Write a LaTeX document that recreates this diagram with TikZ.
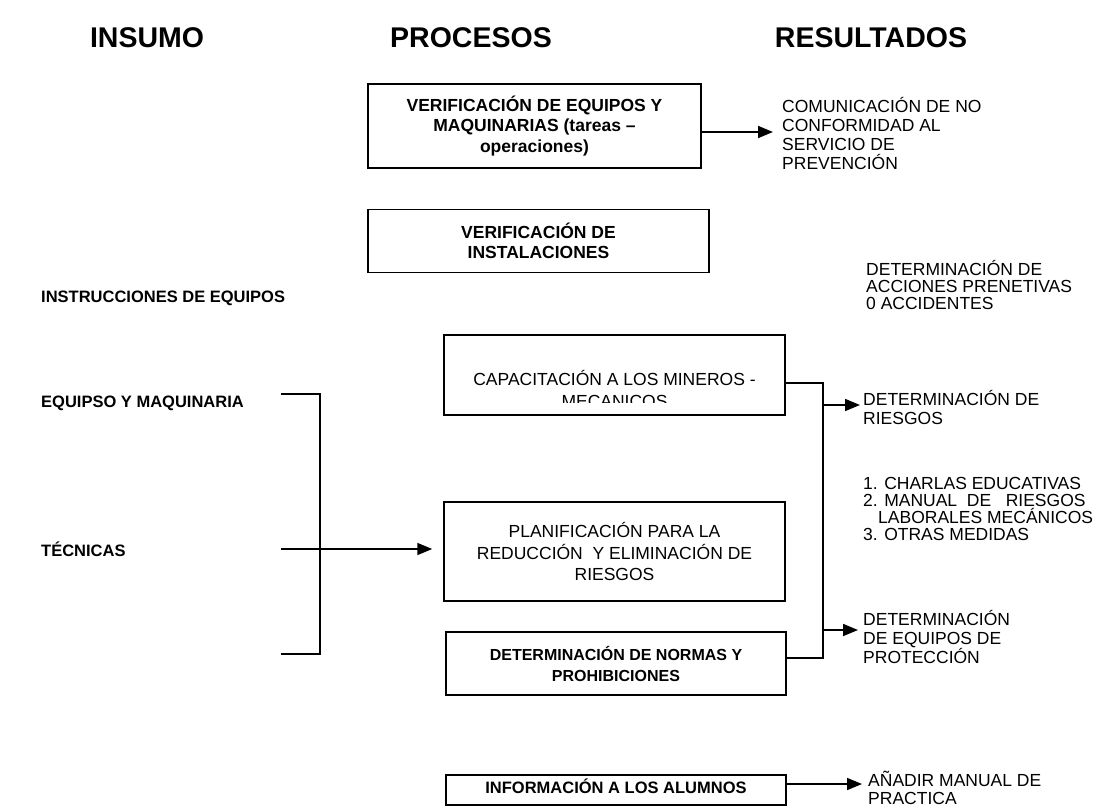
\documentclass[tikz,border=0pt]{standalone}
\usepackage{fontspec}
\setmainfont{Liberation Sans}
\usetikzlibrary{arrows.meta}
\begin{document}
\begin{tikzpicture}[x=1pt,y=-1pt,
  title/.style={font=\fontsize{28.5}{32}\selectfont\bfseries, inner sep=0pt},
  lbl/.style={font=\fontsize{16.5}{19}\selectfont\bfseries, anchor=west, inner sep=0pt},
  pbox/.style={draw, line width=1.5pt, align=center, inner sep=0pt},
  boldtxt/.style={font=\fontsize{17.5}{20.5}\selectfont\bfseries},
  regtxt/.style={font=\fontsize{17.5}{21.5}\selectfont},
  res/.style={font=\fontsize{17.5}{19}\selectfont, anchor=west, align=left, inner sep=0pt},
  res2/.style={font=\fontsize{17.5}{17.3}\selectfont, anchor=west, align=left, inner sep=0pt},
  conn/.style={line width=1.7pt},
  arr/.style={line width=1.7pt, -{Triangle[length=15pt,width=12pt]}}]
\useasboundingbox (0,0) rectangle (1113,806);
% titles
\node[title] (t1) at (147,38) {INSUMO};
\node[title] (t2) at (471,38) {PROCESOS};
\node[title] (t3) at (871,38) {RESULTADOS};
% left labels
\node[lbl] (l1) at (41,298) {INSTRUCCIONES DE EQUIPOS};
\node[lbl] (l2) at (41,403) {EQUIPSO Y MAQUINARIA};
\node[lbl] (l3) at (41,549) {TÉCNICAS};
% process boxes
\node[pbox, boldtxt, minimum width=333pt, minimum height=84pt] (b1) at (534.5,126)
  {VERIFICACIÓN DE EQUIPOS Y\\MAQUINARIAS (tareas –\\operaciones)};
\node[pbox, boldtxt, minimum width=341pt, minimum height=63pt] (b2) at (538.5,241)
  {VERIFICACIÓN DE\\INSTALACIONES};
\node[pbox, minimum width=341pt, minimum height=80pt] (b3) at (614.5,375) {};
\begin{scope}
  \clip (444,330) rectangle (785,402.5);
  \node[regtxt, align=center, inner sep=0pt] (b3t) at (614.5,389)
    {CAPACITACIÓN A LOS MINEROS -\\MECANICOS};
\end{scope}
\node[pbox, regtxt, minimum width=341pt, minimum height=99pt] (b4) at (614.5,551.5)
  {PLANIFICACIÓN PARA LA\\REDUCCIÓN \ Y ELIMINACIÓN DE\\RIESGOS};
\node[pbox, font=\fontsize{16}{21}\selectfont\bfseries, minimum width=340pt, minimum height=63pt] (b5) at (616,663.5)
  {DETERMINACIÓN DE NORMAS Y\\PROHIBICIONES};
\node[pbox, minimum width=340pt, minimum height=30pt] (b6) at (616,790) {};
\node[font=\fontsize{16.5}{19}\selectfont\bfseries, inner sep=0pt] (b6t) at (616,786) {INFORMACIÓN A LOS ALUMNOS};
% results
\node[res] (r1) at (782,133) {COMUNICACIÓN DE NO\\CONFORMIDAD AL\\SERVICIO DE\\PREVENCIÓN};
\node[res2] (r2) at (866,285) {DETERMINACIÓN DE\\ACCIONES PRENETIVAS\\0 ACCIDENTES};
\node[res] (r3) at (863,407) {DETERMINACIÓN DE\\RIESGOS};
\node[res2] (r4) at (863,509) {1. CHARLAS EDUCATIVAS\\2. MANUAL \ DE \ \ RIESGOS\\\hspace*{15pt}LABORALES MECÁNICOS\\3. OTRAS MEDIDAS};
\node[res] (r5) at (863,637) {DETERMINACIÓN\\DE EQUIPOS DE\\PROTECCIÓN};
\node[res2] (r6) at (868,788) {AÑADIR MANUAL DE\\PRACTICA};
% connectors
\coordinate (a1) at (701,132);
\draw[arr] (a1) -- ([xshift=-9pt]r1.west |- a1);
% left bracket
\coordinate (bt) at (281,394);
\coordinate (btv) at (320,394);
\coordinate (bbv) at (320,654);
\coordinate (bb) at (281,654);
\coordinate (ba) at (281,549);
\draw[conn] (bt) -- (btv) -- (bbv) -- (bb);
\draw[arr, shorten >=11pt] (ba) -- (b4.west |- ba);
% right junction
\coordinate (jt) at (823,383);
\coordinate (jb) at (823,658);
\coordinate (ja) at (823,405);
\coordinate (je) at (823,630);
\draw[conn] (b3.east |- jt) -- (jt) -- (jb) -- (b5.east |- jb);
\draw[arr] (ja) -- ([xshift=-3pt]r3.west |- ja);
\draw[arr] (je) -- ([xshift=-5pt]r5.west |- je);
\coordinate (ab) at (786,784);
\draw[arr] (b6.east |- ab) -- ([xshift=-6pt]r6.west |- ab);
\end{tikzpicture}
\end{document}
